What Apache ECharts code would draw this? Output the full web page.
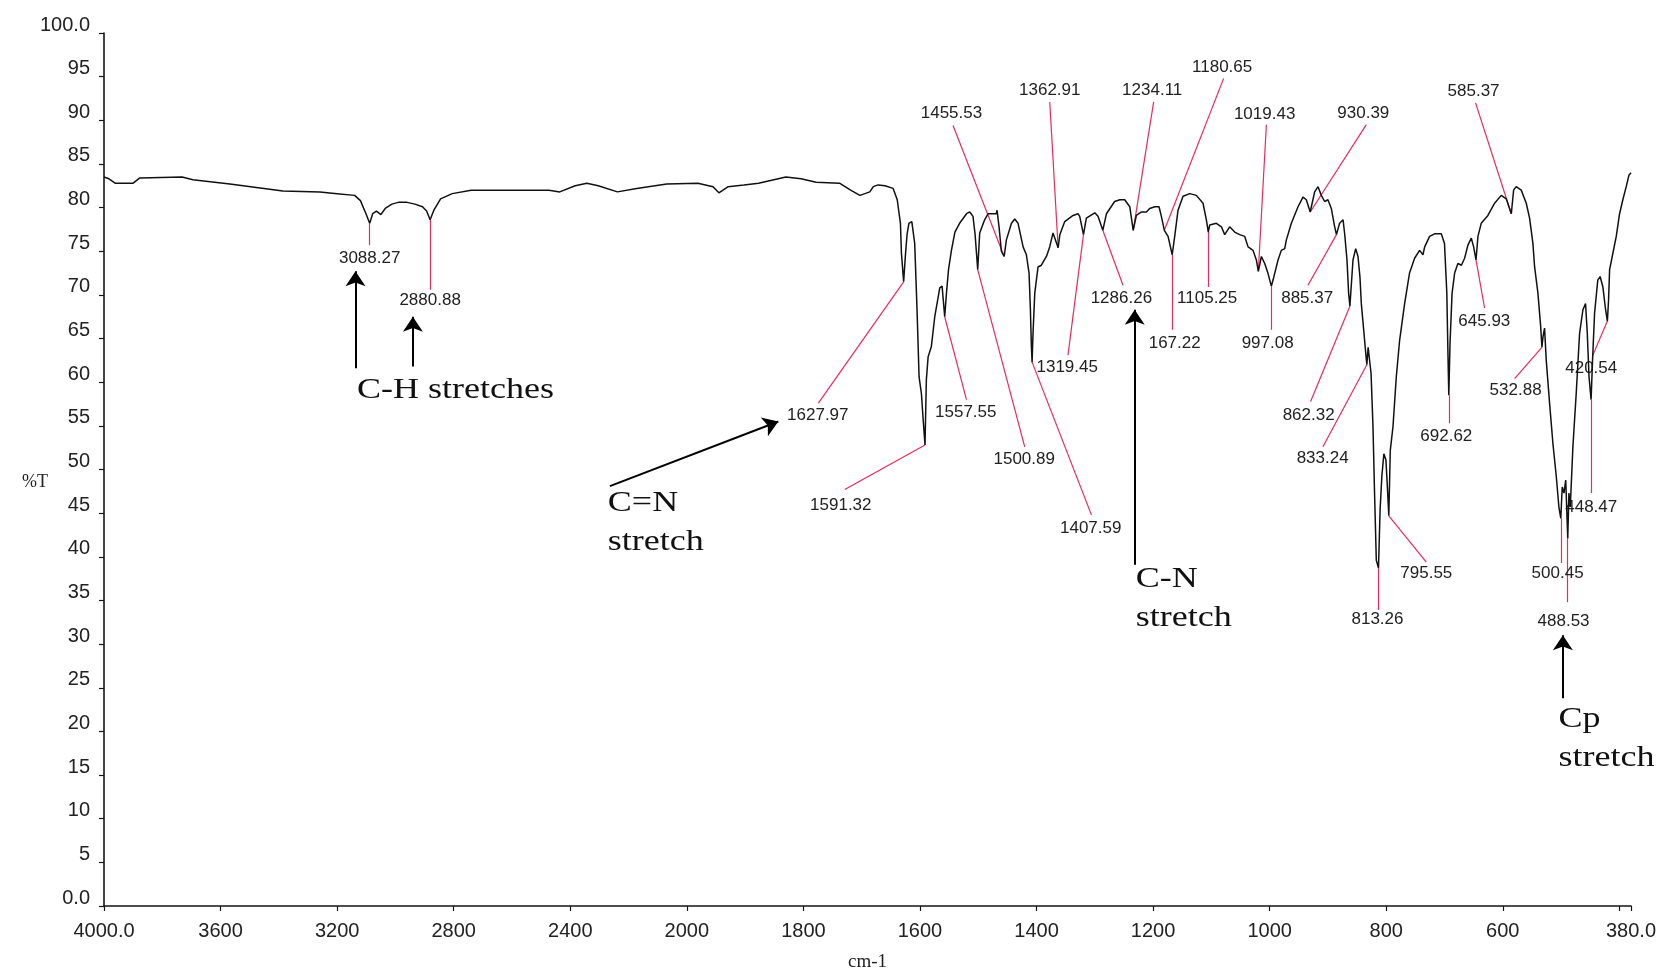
<!DOCTYPE html>
<html>
<head>
<meta charset="utf-8">
<title>FTIR spectrum</title>
<script src="https://cdn.jsdelivr.net/npm/echarts@6/dist/echarts.min.js"></script>
<style>
  html, body { margin: 0; padding: 0; background: #ffffff; }
  #chart { width: 1663px; height: 968px; }
</style>
</head>
<body>
<div id="chart"></div>
<script>
// Measured spectrum: wavenumber (cm-1) and transmittance (%T), high to low wavenumber.
const wavenumber = [
  4000, 3983, 3962, 3900, 3877, 3732, 3695, 3568, 3386, 3259,
  3200, 3140, 3120, 3100, 3088.27, 3078, 3065, 3050, 3035, 3012,
  2990, 2960, 2933, 2907, 2893, 2880.88, 2868, 2845, 2805, 2740,
  2600, 2473, 2436, 2383, 2343, 2304, 2238, 2172, 2069, 1981,
  1955, 1945, 1929, 1902, 1877, 1830, 1804, 1778, 1738, 1719,
  1703, 1686, 1680, 1672, 1660, 1646, 1639, 1633.5, 1631.8, 1627.97,
  1625, 1622, 1619, 1614, 1609, 1605, 1601.5, 1597.5, 1594.5, 1591.32,
  1589, 1586, 1580.4, 1574.6, 1566, 1562, 1557.55, 1554.5, 1551, 1546,
  1540, 1532, 1520, 1514.6, 1509, 1505.5, 1500.89, 1497.5, 1489, 1483,
  1469, 1467.7, 1464.3, 1460.3, 1455.53, 1451.7, 1443, 1437.4, 1431.7, 1423,
  1417.4, 1412.8, 1410.5, 1408.8, 1407.59, 1406, 1403, 1397.4, 1391.7, 1383,
  1377.4, 1371.7, 1368.8, 1362.91, 1360, 1351.6, 1337.3, 1328.8, 1325.9, 1319.45,
  1314.5, 1300, 1294.5, 1286.26, 1280, 1266, 1257, 1248.7, 1240, 1234.11,
  1228.7, 1220, 1211.5, 1205.8, 1197, 1189.8, 1185.8, 1180.65, 1174.3, 1167.22,
  1162.9, 1157.2, 1148.6, 1137.2, 1125.7, 1114.3, 1108.6, 1105.25, 1102.9, 1091.4,
  1082.8, 1077.1, 1068.6, 1060, 1051.4, 1042.8, 1037, 1028.5, 1022.8, 1019.43,
  1014.2, 1008.5, 1003, 997.08, 994.2, 985.6, 980, 974.2, 971.3, 962.8,
  951.3, 942.8, 937.1, 930.39, 922.8, 917, 911.3, 905.6, 900, 894.2,
  888.4, 885.37, 880, 874, 871.3, 867.3, 864.5, 862.32, 857, 852.4,
  848.4, 845, 842.7, 838, 835.5, 833.24, 831, 826, 822.7, 820,
  817, 813.26, 810.5, 807.5, 804, 800.5, 798, 795.55, 793, 788.4,
  782.7, 777, 768.4, 760, 751.3, 742.7, 737, 734, 725.5, 717,
  705.5, 700, 696, 694.2, 692.62, 690.5, 687, 682.6, 677, 671,
  665.5, 659.8, 654, 650, 645.93, 642.6, 637, 625.5, 614, 602.6,
  594, 589, 585.37, 581.4, 577, 568.3, 559.7, 554, 548.3, 545.4,
  539.7, 535, 532.88, 531, 528.3, 525.4, 519.7, 514, 508.2, 503.7,
  500.45, 498, 495, 492, 488.53, 486.5, 484.2, 479.7, 474, 468.2,
  462.5, 458, 455, 452, 448.47, 446, 442.5, 437, 433, 428.2,
  423.6, 420.54, 418.5, 416.7, 411, 405.3, 399.6, 394, 388.2, 383.6,
  380
];
const transmittance = [
  83.5, 83.3, 82.8, 82.8, 83.4, 83.5, 83.2, 82.7, 81.9, 81.8,
  81.6, 81.4, 80.8, 79.2, 78.2, 79.3, 79.6, 79.2, 79.9, 80.4,
  80.6, 80.6, 80.4, 80.1, 79.6, 78.6, 79.7, 81.0, 81.6, 82.0,
  82.0, 82.0, 81.8, 82.5, 82.8, 82.5, 81.8, 82.2, 82.7, 82.8,
  82.4, 81.7, 82.4, 82.6, 82.8, 83.5, 83.3, 82.9, 82.8, 82.0,
  81.4, 81.8, 82.4, 82.6, 82.5, 82.2, 80.9, 78.2, 74.8, 71.5,
  74.5, 77.0, 78.2, 78.4, 75.9, 68.3, 60.6, 58.7, 55.7, 52.8,
  60.3, 62.9, 64.1, 67.5, 70.8, 71.0, 67.5, 70.2, 72.9, 75.1,
  77.2, 78.2, 79.3, 79.5, 79.0, 77.0, 72.9, 77.1, 78.6, 79.3,
  79.3, 79.7, 77.8, 75.0, 74.4, 76.3, 78.2, 78.7, 78.2, 75.5,
  74.6, 72.5, 68.3, 64.1, 62.3, 65.6, 70.2, 73.2, 73.4, 74.4,
  75.5, 77.1, 77.2, 75.4, 76.9, 78.4, 79.1, 79.3, 79.0, 76.9,
  78.8, 79.4, 79.0, 77.4, 79.3, 80.7, 80.9, 80.9, 80.1, 77.4,
  79.1, 79.5, 79.5, 79.9, 80.1, 80.1, 79.0, 77.4, 76.7, 74.6,
  76.7, 79.7, 81.3, 81.6, 81.4, 80.5, 78.6, 77.2, 78.0, 78.2,
  77.8, 76.9, 77.8, 77.2, 76.9, 76.7, 75.5, 75.1, 74.0, 72.7,
  74.4, 73.6, 72.5, 71.0, 71.7, 74.0, 75.1, 75.3, 76.3, 78.2,
  80.1, 81.2, 80.9, 79.5, 81.8, 82.4, 81.4, 80.7, 80.9, 79.9,
  77.8, 76.9, 78.2, 78.6, 77.0, 74.0, 70.2, 68.7, 74.0, 75.3,
  74.4, 72.0, 69.0, 65.5, 63.6, 62.0, 64.0, 61.0, 54.9, 47.3,
  39.6, 38.7, 45.4, 49.2, 51.8, 51.1, 48.0, 44.7, 52.2, 54.9,
  60.6, 64.8, 69.0, 72.5, 74.2, 75.1, 74.6, 75.5, 76.7, 77.0,
  77.0, 75.9, 70.2, 63.7, 58.5, 64.5, 70.2, 72.5, 73.6, 73.4,
  74.2, 75.7, 76.5, 75.5, 74.0, 76.7, 78.2, 79.1, 80.5, 81.4,
  81.0, 80.0, 79.3, 82.0, 82.4, 82.0, 80.5, 78.8, 75.9, 73.2,
  70.2, 66.4, 64.0, 65.2, 66.2, 62.5, 57.6, 53.0, 49.2, 45.7,
  44.4, 48.0, 47.3, 48.8, 42.1, 47.3, 45.7, 52.6, 58.7, 65.6,
  68.3, 69.0, 65.6, 60.6, 58.0, 62.5, 67.9, 71.7, 72.1, 70.9,
  68.3, 67.0, 69.4, 72.9, 74.8, 76.7, 79.3, 80.9, 82.4, 83.7,
  84.0
];

// Picked peaks (cm-1) and the text printed beside each one.
const peakWavenumbers = [
  3088.27, 2880.88, 1627.97, 1591.32, 1557.55, 1500.89, 1455.53, 1407.59,
  1362.91, 1319.45, 1286.26, 1234.11, 1180.65, 1167.22, 1105.25, 1019.43,
  997.08, 930.39, 885.37, 862.32, 833.24, 813.26, 795.55, 692.62,
  645.93, 585.37, 532.88, 500.45, 488.53, 448.47, 420.54
];
const peakLabels = [
  '3088.27', '2880.88', '1627.97', '1591.32', '1557.55', '1500.89', '1455.53', '1407.59',
  '1362.91', '1319.45', '1286.26', '1234.11', '1180.65', '167.22', '1105.25', '1019.43',
  '997.08', '930.39', '885.37', '862.32', '833.24', '813.26', '795.55', '692.62',
  '645.93', '585.37', '532.88', '500.45', '488.53', '448.47', '420.54'
];

// Where each peak label sits, as [cm-1, %T] of the text centre.
const peakLabelAt = [
  [3088.27, 74.2], [2880.88, 69.4], [1775.3, 56.2], [1735.8, 45.9], [1521.4, 56.5],
  [1421.1, 51.2], [1545.9, 90.8], [1307, 43.3], [1377.3, 93.4], [1347.3, 61.7],
  [1254.4, 69.6], [1201.5, 93.4], [1081.5, 96.1], [1162.9, 64.5], [1107.2, 69.6],
  [1008.6, 90.7], [1003.4, 64.5], [839.3, 90.8], [935.6, 69.6], [933.1, 56.2],
  [909.1, 51.3], [815, 32.8], [731.2, 38.1], [696.9, 53.8], [631.7, 67.0],
  [650.1, 93.3], [578.0, 59.1], [505.9, 38.1], [495.7, 32.6], [448.2, 45.7],
  [448.2, 61.6]
];
// Label end of each leader line, as [cm-1, %T].
const leaderEnds = [
  [3088.27, 75.7], [2880.88, 70.6], [1774.3, 57.6], [1729, 47.7], [1520.2, 58.0],
  [1420.2, 52.6], [1543.2, 89.4], [1305.8, 44.8], [1377.3, 92.1], [1346, 63.1],
  [1251.6, 71.1], [1199, 92.1], [1078.9, 94.8], [1167.22, 66.0], [1105.25, 70.9],
  [1005.6, 89.5], [997.08, 66.0], [834.1, 89.5], [934.2, 71.1], [929.7, 57.8],
  [908.6, 52.6], [813.26, 33.9], [731.2, 39.4], [692.62, 55.3], [631.2, 68.5],
  [646.7, 92.0], [579.7, 60.4], [500.45, 39.3], [488.53, 34.8], [448.47, 47.3],
  [445.4, 63.1]
];

// Band assignments: text (left edge, vertical middle) and the arrows pointing at the bands.
const assignmentTexts = ['C-H stretches', 'C=N\nstretch', 'C-N\nstretch', 'Cp\nstretch'];
const assignmentAt = [[3132, 59.1], [2271, 43.9], [1229.8, 35.2], [504.3, 19.2]];
const assignmentArrows = [
  [[3137, 61.6], [3137, 72.7]],
  [[2940, 61.8], [2940, 67.5]],
  [[2264, 48.1], [1843, 55.5]],
  [[1231.5, 39.1], [1231.5, 68.3]],
  [[496.9, 23.8], [496.9, 31.0]]
];

const xTickEnds = { start: '4000.0', end: '380.0' };

// The instrument plots 4000-2000 cm-1 at half the scale of 2000-380 cm-1,
// so wavenumbers are mapped onto a piecewise-linear axis coordinate.
function toAxis(w) { return w >= 2000 ? (4000 - w) / 2 : 1000 + (2000 - w); }
function fromAxis(v) { return v <= 1000 ? 4000 - 2 * v : 2000 - (v - 1000); }
const AXIS_END = toAxis(380);

function transmittanceAt(w) {
  let best = 0;
  for (let i = 1; i < wavenumber.length; i++) {
    if (Math.abs(wavenumber[i] - w) < Math.abs(wavenumber[best] - w)) best = i;
  }
  return transmittance[best];
}

const spectrumData = wavenumber.map((w, i) => [toAxis(w), transmittance[i]]);
const leaderData = peakWavenumbers.map((w, i) => ({
  coords: [[toAxis(w), transmittanceAt(w)], [toAxis(leaderEnds[i][0]), leaderEnds[i][1]]]
}));
const arrowData = assignmentArrows.map(a => ({
  coords: [[toAxis(a[0][0]), a[0][1]], [toAxis(a[1][0]), a[1][1]]]
}));
const peakLabelData = peakLabelAt.map((p, i) => [toAxis(p[0]), p[1], i]);
const assignmentData = assignmentAt.map((p, i) => [toAxis(p[0]), p[1], i]);

const AXIS_COLOR = '#151515';
const TEXT_COLOR = '#222222';
const LEADER_COLOR = '#f0285a';

const chart = echarts.init(document.getElementById('chart'), null, { renderer: 'canvas' });

chart.setOption({
  animation: false,
  backgroundColor: '#ffffff',
  grid: { left: 104, right: 32, top: 33, bottom: 62, containLabel: false, outerBoundsMode: 'none' },
  xAxis: {
    type: 'value',
    min: 0,
    max: AXIS_END,
    interval: 200,
    name: 'cm-1',
    nameLocation: 'middle',
    nameGap: 47,
    nameMoveOverlap: false,
    nameTextStyle: { fontFamily: 'Liberation Serif', fontSize: 19, color: TEXT_COLOR },
    axisLine: { show: true, onZero: false, lineStyle: { color: AXIS_COLOR, width: 1.6 } },
    axisTick: { show: true, inside: false, length: 5, lineStyle: { color: AXIS_COLOR, width: 1.2 } },
    axisLabel: {
      show: true,
      margin: 15,
      fontFamily: 'Liberation Sans',
      fontSize: 20,
      color: TEXT_COLOR,
      showMinLabel: true,
      showMaxLabel: true,
      formatter: function (v) {
        if (v <= 0) return xTickEnds.start;
        if (v >= AXIS_END) return xTickEnds.end;
        if (AXIS_END - v < 100) return '';
        return String(Math.round(fromAxis(v)));
      }
    },
    splitLine: { show: false }
  },
  yAxis: {
    type: 'value',
    min: 0,
    max: 100,
    interval: 5,
    name: '%T',
    nameLocation: 'middle',
    nameRotate: 0,
    nameGap: 56,
    nameMoveOverlap: false,
    nameTextStyle: { fontFamily: 'Liberation Serif', fontSize: 18, color: TEXT_COLOR, verticalAlign: 'top', lineHeight: 26 },
    axisLine: { show: true, onZero: false, lineStyle: { color: AXIS_COLOR, width: 1.6 } },
    axisTick: { show: true, inside: false, length: 5, lineStyle: { color: AXIS_COLOR, width: 1.2 } },
    axisLabel: {
      show: true,
      margin: 14,
      fontFamily: 'Liberation Sans',
      fontSize: 20,
      color: TEXT_COLOR,
      verticalAlign: 'bottom',
      lineHeight: 16,
      formatter: function (v) {
        if (v === 100) return '100.0';
        if (v === 0) return '0.0';
        return String(v);
      }
    },
    splitLine: { show: false }
  },
  series: [
    {
      name: 'leaders',
      type: 'lines',
      coordinateSystem: 'cartesian2d',
      silent: true,
      z: 2,
      symbol: ['none', 'none'],
      lineStyle: { color: LEADER_COLOR, width: 1.2, opacity: 1, curveness: 0 },
      data: leaderData
    },
    {
      name: 'peak labels',
      type: 'custom',
      coordinateSystem: 'cartesian2d',
      silent: true,
      clip: false,
      z: 3,
      data: peakLabelData,
      renderItem: function (params, api) {
        const p = api.coord([api.value(0), api.value(1)]);
        return {
          type: 'text',
          x: p[0],
          y: p[1],
          style: {
            text: peakLabels[params.dataIndex],
            font: '17px "Liberation Sans"',
            fill: TEXT_COLOR,
            align: 'center',
            verticalAlign: 'middle'
          }
        };
      }
    },
    {
      name: 'spectrum',
      type: 'line',
      showSymbol: false,
      symbol: 'none',
      silent: true,
      z: 4,
      lineStyle: { color: '#111111', width: 1.5 },
      data: spectrumData
    },
    {
      name: 'assignment arrows',
      type: 'lines',
      coordinateSystem: 'cartesian2d',
      silent: true,
      z: 5,
      symbol: ['none', 'arrow'],
      symbolSize: [11, 15],
      lineStyle: { color: '#000000', width: 2, opacity: 1, curveness: 0 },
      data: arrowData
    },
    {
      name: 'assignments',
      type: 'custom',
      coordinateSystem: 'cartesian2d',
      silent: true,
      clip: false,
      z: 5,
      data: assignmentData,
      renderItem: function (params, api) {
        const p = api.coord([api.value(0), api.value(1)]);
        return {
          type: 'text',
          x: p[0],
          y: p[1],
          scaleX: 1.2,
          style: {
            text: assignmentTexts[params.dataIndex],
            font: '30px "Liberation Serif"',
            fill: '#111111',
            align: 'left',
            verticalAlign: 'middle',
            lineHeight: 39
          }
        };
      }
    }
  ]
});
</script>
</body>
</html>
